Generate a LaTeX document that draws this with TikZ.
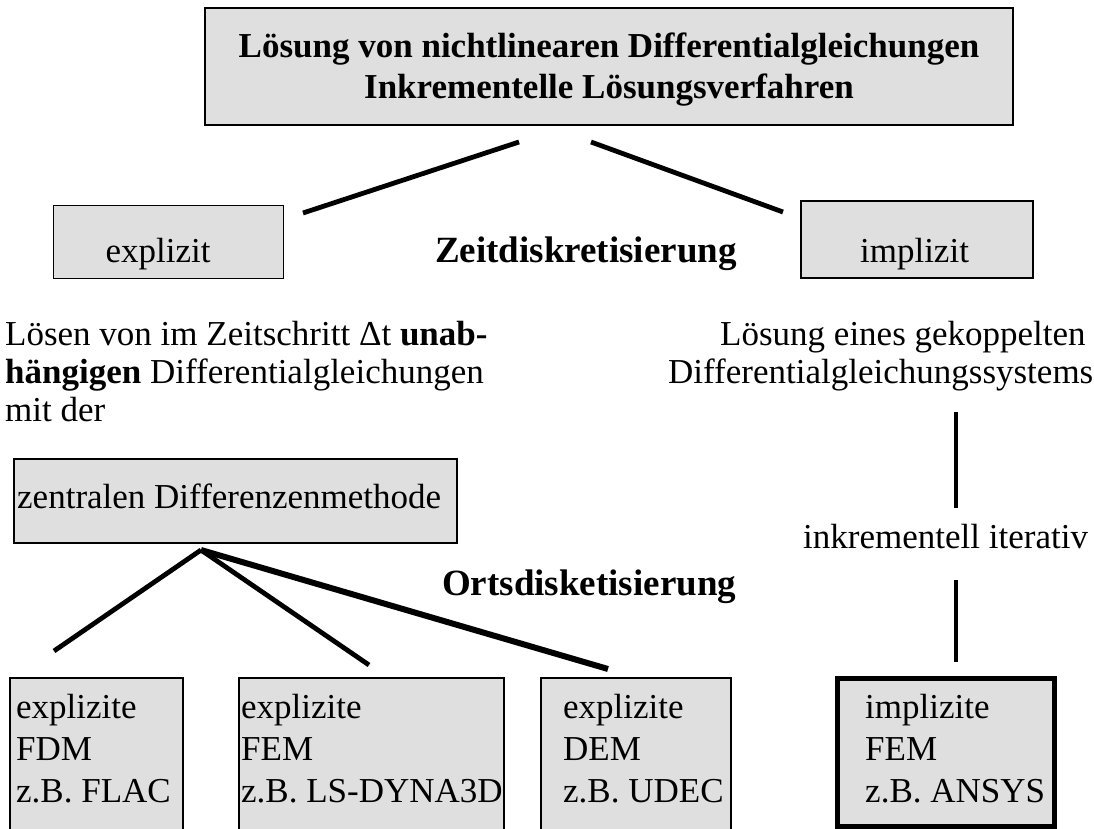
\documentclass[tikz,border=0pt]{standalone}
\usepackage{fontspec}
\setmainfont{Liberation Serif}
\definecolor{boxgray}{RGB}{223,223,223}
\newcommand\txtfont{\fontsize{35}{38}\selectfont}
\newcommand\lblfont{\fontsize{37}{40}\selectfont\bfseries}
\newcommand\ttlfont{\fontsize{35}{41}\selectfont\bfseries}
\begin{document}
\begin{tikzpicture}[x=1pt,y=-1pt,
  box/.style={draw=black, fill=boxgray, inner sep=0pt, outer sep=0pt, anchor=north west},
  txt/.style={inner sep=0pt, font=\txtfont},
  lbl/.style={inner sep=0pt, font=\lblfont, anchor=base west},
  conn/.style={line width=4.8pt},
  thickconn/.style={line width=6pt}]
\useasboundingbox (0,0) rectangle (1094,829);

% top box
\node[box, line width=2.5pt, minimum width=808pt, minimum height=117pt] (top) at (205,8) {};
\node[inner sep=0pt, font=\ttlfont, align=center] (toptxt) at (609,70) {Lösung von nichtlinearen Differentialgleichungen\\Inkrementelle Lösungsverfahren};

% time discretisation
\node[box, line width=1pt, minimum width=230pt, minimum height=73pt] (expl) at (53,205) {};
\node[txt, anchor=base] (expltxt) at (158,262) {explizit};
\node[box, line width=2pt, minimum width=232pt, minimum height=77pt] (impl) at (801,201) {};
\node[txt, anchor=base] (impltxt) at (914.5,262) {implizit};
\node[lbl] (zeit) at (435,262) {Zeitdiskretisierung};

\coordinate (tl1) at (519,142); \coordinate (tl2) at (303,213);
\coordinate (tr1) at (591,142); \coordinate (tr2) at (783,212);
\draw[conn] (tl1) -- (tl2);
\draw[conn] (tr1) -- (tr2);

% left paragraph
\node[txt, anchor=base west] (l1) at (5,345) {Lösen von im Zeitschritt Δt \textbf{unab-}};
\node[txt, anchor=base west] (l2) at (5,383) {\textbf{hängigen} Differentialgleichungen};
\node[txt, anchor=base west] (l3) at (5,421) {mit der};

% right paragraph
\node[txt, anchor=base west] (r1) at (720,345) {Lösung eines gekoppelten};
\node[txt, anchor=base west] (r2) at (668,383) {Differentialgleichungssystems};

\coordinate (v1a) at (956,412); \coordinate (v1b) at (956,508);
\draw[conn] (v1a) -- (v1b);
\node[txt, anchor=base west] (inkr) at (803,548) {inkrementell iterativ};
\coordinate (v2a) at (956,580); \coordinate (v2b) at (956,662);
\draw[conn] (v2a) -- (v2b);

% central difference box
\node[box, line width=2pt, minimum width=443pt, minimum height=84pt] (zdm) at (14,459) {};
\node[txt, anchor=base west] (zdmtxt) at (17,508) {zentralen Differenzenmethode};

\coordinate (apex) at (201,550);
\coordinate (e1) at (54,651);
\coordinate (e2) at (369,665);
\coordinate (e3) at (608,669);
\draw[conn] (apex) -- (e1);
\draw[conn] (apex) -- (e2);
\draw[thickconn] (apex) -- (e3);
\node[lbl] (orts) at (442,595) {Ortsdisketisierung};

% bottom boxes
\node[box, line width=1.2pt, minimum width=173pt, minimum height=152pt] (fdm) at (10,678) {};
\node[box, line width=1.2pt, minimum width=265pt, minimum height=152pt] (fem) at (239,678) {};
\node[box, line width=1.2pt, minimum width=190pt, minimum height=152pt] (dem) at (541,678) {};
\node[box, line width=5pt, minimum width=217pt, minimum height=148pt] (ifem) at (837,678) {};

\node[txt, anchor=base west] (fdm1) at (16,718) {explizite};
\node[txt, anchor=base west] (fdm2) at (16,760) {FDM};
\node[txt, anchor=base west] (fdm3) at (16,802) {z.B. FLAC};

\node[txt, anchor=base west] (fem1) at (241,718) {explizite};
\node[txt, anchor=base west] (fem2) at (241,760) {FEM};
\node[txt, anchor=base west] (fem3) at (241,802) {z.B. LS-DYNA3D};

\node[txt, anchor=base west] (dem1) at (563,718) {explizite};
\node[txt, anchor=base west] (dem2) at (563,760) {DEM};
\node[txt, anchor=base west] (dem3) at (563,802) {z.B. UDEC};

\node[txt, anchor=base west] (ifem1) at (865,718) {implizite};
\node[txt, anchor=base west] (ifem2) at (865,760) {FEM};
\node[txt, anchor=base west] (ifem3) at (865,802) {z.B. ANSYS};
\end{tikzpicture}
\end{document}
